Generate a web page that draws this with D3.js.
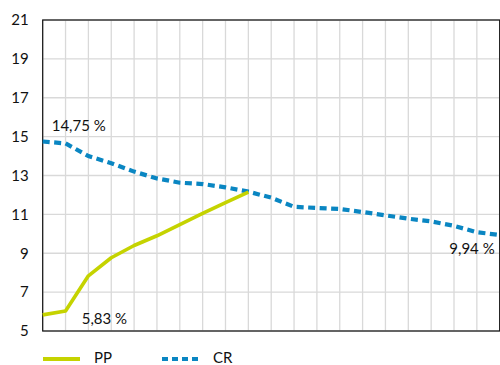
<!DOCTYPE html>
<html>
<head>
<meta charset="utf-8">
<script src="https://cdn.jsdelivr.net/npm/d3@7"></script>
<style>
  body { margin: 0; background: #fff; }
  svg { display: block; font-family: Lato, "Open Sans", sans-serif; }
</style>
</head>
<body>
<svg id="chart" width="500" height="365"></svg>
<script>
// Period index along the x axis (0..20)
const periods = d3.range(21);
// PP series (ends at period 9)
const ppValues = [5.83, 6.03, 7.84, 8.77, 9.4, 9.9, 10.47, 11.05, 11.6, 12.15];
// CR series
const crValues = [14.75, 14.65, 14.0, 13.63, 13.2, 12.85, 12.63, 12.56, 12.39, 12.17,
                  11.86, 11.39, 11.33, 11.28, 11.12, 10.95, 10.78, 10.64, 10.41, 10.08, 9.94];
const yTicks = [5, 7, 9, 11, 13, 15, 17, 19, 21];
const seriesNames = ["PP", "CR"];
const colors = { PP: "#c5d300", CR: "#0a86c2" };

const svg = d3.select("#chart");
const m = { left: 42.7, right: 0.3, top: 20, bottom: 34 };
const W = 500, H = 365;

const x = d3.scaleLinear().domain([0, 20]).range([m.left, W - m.right]);
const y = d3.scaleLinear().domain([5, 21]).range([H - m.bottom, m.top]);

// grid
const g = svg.append("g");
g.selectAll("line.v").data(periods).join("line")
  .attr("x1", d => x(d)).attr("x2", d => x(d))
  .attr("y1", y(21)).attr("y2", y(5))
  .attr("stroke", "#d9d9d9").attr("stroke-width", 1.3);
g.selectAll("line.h").data(yTicks).join("line")
  .attr("x1", x(0)).attr("x2", x(20))
  .attr("y1", d => y(d)).attr("y2", d => y(d))
  .attr("stroke", "#d9d9d9").attr("stroke-width", 1.3);

// frame
svg.append("rect")
  .attr("x", x(0)).attr("y", y(21))
  .attr("width", x(20) - x(0)).attr("height", y(5) - y(21))
  .attr("fill", "none").attr("stroke", "#111").attr("stroke-width", 1.2);

// y axis labels
const yAxis = d3.axisLeft(y).tickValues(yTicks).tickSize(0).tickPadding(14);
svg.append("g").attr("transform", `translate(${x(0)},0)`).call(yAxis)
  .call(a => a.select(".domain").remove())
  .selectAll("text").attr("font-size", 15).attr("fill", "#111")
  .attr("font-family", "Lato, 'Open Sans', sans-serif");

const line = d3.line().x((d, i) => x(i)).y(d => y(d));

// CR dotted line
svg.append("path").datum(crValues)
  .attr("d", line).attr("fill", "none")
  .attr("stroke", colors.CR).attr("stroke-width", 4.2)
  .attr("stroke-dasharray", "7,4.5");

// PP solid line
svg.append("path").datum(ppValues)
  .attr("d", line).attr("fill", "none")
  .attr("stroke", colors.PP).attr("stroke-width", 3.6)
  .attr("stroke-linejoin", "round");

// value labels
const labels = [
  { text: "14,75 %", xi: 0, v: crValues[0], dx: 9, dy: -10, anchor: "start" },
  { text: "5,83 %", xi: 0, v: ppValues[0], dx: 39, dy: 9, anchor: "start" },
  { text: "9,94 %", xi: 20, v: crValues[20], dx: -5, dy: 19.5, anchor: "end" }
];
svg.selectAll("text.lbl").data(labels).join("text")
  .attr("x", d => x(d.xi) + d.dx).attr("y", d => y(d.v) + d.dy)
  .attr("text-anchor", d => d.anchor)
  .attr("font-size", 15).attr("fill", "#111")
  .text(d => d.text);

// legend
const leg = svg.append("g").attr("transform", "translate(43,359)");
seriesNames.forEach((name, i) => {
  const gx = i * 119;
  leg.append("line").attr("x1", gx).attr("x2", gx + 37).attr("y1", 0).attr("y2", 0)
    .attr("stroke", colors[name]).attr("stroke-width", name === "PP" ? 4 : 4.2)
    .attr("stroke-dasharray", name === "CR" ? "6,4" : null);
  leg.append("text").attr("x", gx + 51).attr("y", 4)
    .attr("font-size", 15).attr("fill", "#111").text(name);
});
</script>
</body>
</html>
